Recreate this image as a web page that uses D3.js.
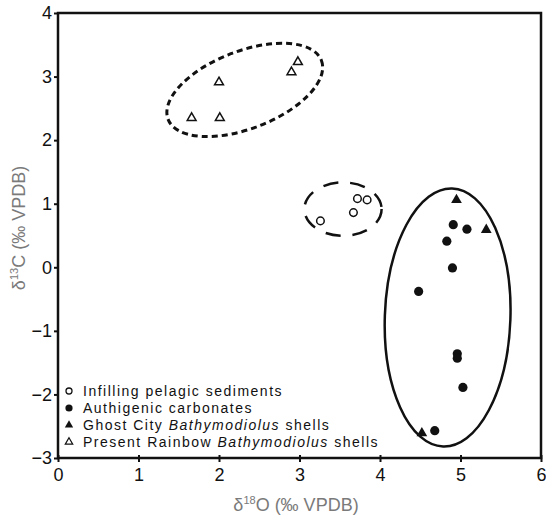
<!DOCTYPE html>
<html>
<head>
<meta charset="utf-8">
<script src="https://cdn.jsdelivr.net/npm/d3@7"></script>
<style>
  body { margin: 0; background: #fff; }
  text { font-family: Arial, "Liberation Sans", sans-serif; }
</style>
</head>
<body>
<div id="chart"></div>
<script>
// values (d18O, d13C)
const infillO = [3.72, 3.84, 3.67, 3.26];
const infillC = [1.08, 1.06, 0.86, 0.73];

const authO = [4.91, 5.08, 4.83, 4.90, 4.48, 4.96, 4.96, 5.03, 4.68];
const authC = [0.67, 0.60, 0.41, -0.01, -0.38, -1.36, -1.43, -1.89, -2.57];

const ghostO = [4.95, 5.32, 4.52];
const ghostC = [1.06, 0.59, -2.61];

const rainbowO = [2.98, 2.90, 2.00, 1.66, 2.01];
const rainbowC = [3.23, 3.07, 2.91, 2.35, 2.35];

const xTicks = [0, 1, 2, 3, 4, 5, 6];
const yTicks = [-3, -2, -1, 0, 1, 2, 3, 4];

// grouping ellipses: centre (d18O, d13C), half-axes in axis units, tilt in degrees
const groupCx = [2.32, 3.54, 4.84];
const groupCy = [2.79, 0.915, -0.79];
const groupRx = [1.02, 0.48, 0.78];
const groupRy = [0.61, 0.42, 2.03];
const groupTilt = [-21, 0, 2];

const width = 546, height = 515;
const margin = {top: 13, right: 5, bottom: 55, left: 58};

const svg = d3.select("#chart").append("svg")
  .attr("width", width)
  .attr("height", height);

const x = d3.scaleLinear().domain([0, 6]).range([margin.left, width - margin.right]);
const y = d3.scaleLinear().domain([-3, 4]).range([height - margin.bottom - 2, margin.top]);

// frame
svg.append("rect")
  .attr("x", x(0)).attr("y", y(4))
  .attr("width", x(6) - x(0)).attr("height", y(-3) - y(4))
  .attr("fill", "none").attr("stroke", "#111").attr("stroke-width", 2.5);

// axes
const xAxis = svg.append("g")
  .attr("transform", `translate(0,${y(-3)})`)
  .call(d3.axisBottom(x).tickValues(xTicks).tickFormat(d3.format("d")).tickSizeInner(4).tickSizeOuter(0));
xAxis.select(".domain").remove();
xAxis.selectAll(".tick line").attr("y1", -3).attr("stroke", "#111").attr("stroke-width", 2);
xAxis.selectAll(".tick text").attr("font-size", 18).attr("fill", "#111").attr("dy", "0.9em");

const yAxis = svg.append("g")
  .attr("transform", `translate(${x(0)},0)`)
  .call(d3.axisLeft(y).tickValues(yTicks).tickFormat(d3.format("d")).tickSizeInner(4).tickSizeOuter(0).tickPadding(2));
yAxis.select(".domain").remove();
yAxis.selectAll(".tick line").attr("stroke", "#111").attr("stroke-width", 2);
yAxis.selectAll(".tick text").attr("font-size", 18).attr("fill", "#111");

// axis titles
const xt = svg.append("text")
  .attr("x", 296).attr("y", 511)
  .attr("text-anchor", "middle").attr("font-size", 18).attr("fill", "#7a7a7a");
xt.append("tspan").text("δ");
xt.append("tspan").attr("font-size", 11).attr("dy", -7).text("18");
xt.append("tspan").attr("dy", 7).text("O (‰ VPDB)");

const yt = svg.append("text")
  .attr("transform", `translate(25,228) rotate(-90)`)
  .attr("text-anchor", "middle").attr("font-size", 18).attr("fill", "#7a7a7a");
yt.append("tspan").text("δ");
yt.append("tspan").attr("font-size", 11).attr("dy", -7).text("13");
yt.append("tspan").attr("dy", 7).text("C (‰ VPDB)");

// grouping ellipses
const ellStyle = [
  {dash: "6,4", w: 3},
  {dash: "15,12", w: 2.5},
  {dash: null, w: 2.5}
];
groupCx.forEach((cx, i) => {
  svg.append("ellipse")
    .attr("transform", `translate(${x(cx)},${y(groupCy[i])}) rotate(${groupTilt[i]})`)
    .attr("rx", x(cx + groupRx[i]) - x(cx))
    .attr("ry", y(groupCy[i]) - y(groupCy[i] + groupRy[i]))
    .attr("fill", "none")
    .attr("stroke", "#111")
    .attr("stroke-width", ellStyle[i].w)
    .attr("stroke-dasharray", ellStyle[i].dash);
});

const tri = d3.symbol().type(d3.symbolTriangle);
const zip = (a, b) => a.map((v, i) => [v, b[i]]);

svg.append("g").selectAll("circle")
  .data(zip(infillO, infillC)).join("circle")
  .attr("cx", d => x(d[0])).attr("cy", d => y(d[1])).attr("r", 3.8)
  .attr("fill", "#fff").attr("stroke", "#111").attr("stroke-width", 1.5);

svg.append("g").selectAll("circle")
  .data(zip(authO, authC)).join("circle")
  .attr("cx", d => x(d[0])).attr("cy", d => y(d[1])).attr("r", 4.6)
  .attr("fill", "#111");

svg.append("g").selectAll("path")
  .data(zip(ghostO, ghostC)).join("path")
  .attr("transform", d => `translate(${x(d[0])},${y(d[1])})`)
  .attr("d", tri.size(50))
  .attr("fill", "#111");

svg.append("g").selectAll("path")
  .data(zip(rainbowO, rainbowC)).join("path")
  .attr("transform", d => `translate(${x(d[0])},${y(d[1])})`)
  .attr("d", tri.size(34))
  .attr("fill", "#fff").attr("stroke", "#111").attr("stroke-width", 1.5);

// legend
const legend = svg.append("g").attr("transform", "translate(69,391)");
const legendItems = [
  {kind: "open-circle", parts: [["Infilling pelagic sediments", false]]},
  {kind: "filled-circle", parts: [["Authigenic carbonates", false]]},
  {kind: "filled-tri", parts: [["Ghost City ", false], ["Bathymodiolus", true], [" shells", false]]},
  {kind: "open-tri", parts: [["Present Rainbow ", false], ["Bathymodiolus", true], [" shells", false]]}
];
legendItems.forEach((item, i) => {
  const g = legend.append("g").attr("transform", `translate(0,${i * 17})`);
  if (item.kind === "open-circle") {
    g.append("circle").attr("r", 3).attr("fill", "#fff").attr("stroke", "#111").attr("stroke-width", 1.3);
  } else if (item.kind === "filled-circle") {
    g.append("circle").attr("r", 3.6).attr("fill", "#111");
  } else if (item.kind === "filled-tri") {
    g.append("path").attr("d", tri.size(30)).attr("fill", "#111");
  } else {
    g.append("path").attr("d", tri.size(24)).attr("fill", "#fff").attr("stroke", "#111").attr("stroke-width", 1.2);
  }
  const t = g.append("text").attr("x", 14).attr("y", 5)
    .attr("font-size", 14).attr("fill", "#111").attr("letter-spacing", 1.5);
  item.parts.forEach(p => {
    t.append("tspan").attr("font-style", p[1] ? "italic" : "normal").text(p[0]);
  });
});
</script>
</body>
</html>
